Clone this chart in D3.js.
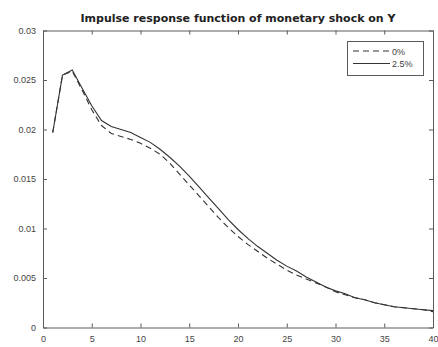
<!DOCTYPE html>
<html><head><meta charset="utf-8">
<script src="https://cdn.jsdelivr.net/npm/d3@7"></script>
<style>body{margin:0;background:#fff}svg{display:block}</style>
</head><body>
<script>
const periods = d3.range(1, 41);
const series0 = [0.0197,0.0255,0.0259,0.0240,0.0220,0.0204,0.0196,0.0193,0.0190,0.0186,
  0.0181,0.0175,0.0166,0.0155,0.0144,0.0133,0.0122,0.0111,0.0101,0.0092,
  0.0084,0.0077,0.0070,0.0064,0.0058,0.0053,0.0049,0.0045,0.0041,0.0036,
  0.0033,0.0030,0.0028,0.0025,0.0023,0.0021,0.0020,0.0019,0.0018,0.0016];
const series25 = [0.0197,0.0255,0.0260,0.0242,0.0224,0.0209,0.0203,0.0200,0.0197,0.0192,
  0.0187,0.0180,0.0172,0.0163,0.0153,0.0142,0.0131,0.0120,0.0109,0.0099,
  0.0090,0.0082,0.0075,0.0068,0.0062,0.0057,0.0051,0.0046,0.0041,0.0037,
  0.0034,0.0030,0.0028,0.0025,0.0023,0.0021,0.0020,0.0019,0.0018,0.0017];
const xTicks = [0,5,10,15,20,25,30,35,40];
const yTicks = [0,0.005,0.01,0.015,0.02,0.025,0.03];
const yTickLabels = ["0","0.005","0.01","0.015","0.02","0.025","0.03"];
const legendLabels = ["0%","2.5%"];
const titleText = "Impulse response function of monetary shock on Y";

const W = 438, H = 347;
const m = {l:43, t:30.5, r:5, b:19};
const svg = d3.select("body").append("svg").attr("width", W).attr("height", H);
const x = d3.scaleLinear().domain([0,40]).range([m.l, W - m.r]);
const y = d3.scaleLinear().domain([0,0.03]).range([H - m.b - 0.5, m.t]);
const axisColor = "#5a5a5a";
const font = "Liberation Sans, Arial, sans-serif";

// axes
const gx = svg.append("g").attr("transform", `translate(0,${y(0)})`)
  .call(d3.axisBottom(x).tickValues(xTicks).tickSizeInner(-4).tickSizeOuter(0).tickPadding(8).tickFormat(d3.format("d")));
const gxt = svg.append("g").attr("transform", `translate(0,${y(0.03)})`)
  .call(d3.axisTop(x).tickValues(xTicks).tickSizeInner(-4).tickSizeOuter(0).tickFormat(""));
const gy = svg.append("g").attr("transform", `translate(${x(0)},0)`)
  .call(d3.axisLeft(y).tickValues(yTicks).tickSizeInner(-4).tickSizeOuter(0).tickPadding(7)
    .tickFormat((d,i) => yTickLabels[i]));
const gyr = svg.append("g").attr("transform", `translate(${x(40)},0)`)
  .call(d3.axisRight(y).tickValues(yTicks).tickSizeInner(-4).tickSizeOuter(0).tickFormat(""));
[gx,gxt,gy,gyr].forEach(g => {
  g.selectAll("path.domain").attr("stroke", axisColor);
  g.selectAll(".tick line").attr("stroke", axisColor);
  g.selectAll(".tick text").attr("fill", "#444").attr("font-size", 9).attr("font-family", font);
});

// lines
const line = d3.line().x((d,i) => x(periods[i])).y(d => y(d));
svg.append("path").datum(series0).attr("d", line).attr("fill","none")
  .attr("stroke","#333").attr("stroke-width",1.1).attr("stroke-dasharray","6,4");
svg.append("path").datum(series25).attr("d", line).attr("fill","none")
  .attr("stroke","#333").attr("stroke-width",1.1);

// title
svg.append("text").attr("x", (x(0)+x(40))/2).attr("y", 22).attr("text-anchor","middle")
  .attr("font-family", "DejaVu Sans, sans-serif").attr("font-weight","bold").attr("font-size", 11).attr("fill","#222")
  .text(titleText);

// legend
const lg = svg.append("g");
lg.append("rect").attr("x", 347.5).attr("y", 41.5).attr("width", 76).attr("height", 34)
  .attr("fill","#fff").attr("stroke", axisColor);
const dashes = ["6,4", null];
legendLabels.forEach((lab, i) => {
  const ly = 51 + i*12.5;
  const l = lg.append("line").attr("x1", 353).attr("x2", 390).attr("y1", ly).attr("y2", ly)
    .attr("stroke","#333").attr("stroke-width",1.1);
  if (dashes[i]) l.attr("stroke-dasharray", dashes[i]);
  lg.append("text").attr("x", 392).attr("y", ly + 3.5).attr("font-size", 9)
    .attr("font-family", font).attr("fill","#444").text(lab);
});
</script>
</body></html>
